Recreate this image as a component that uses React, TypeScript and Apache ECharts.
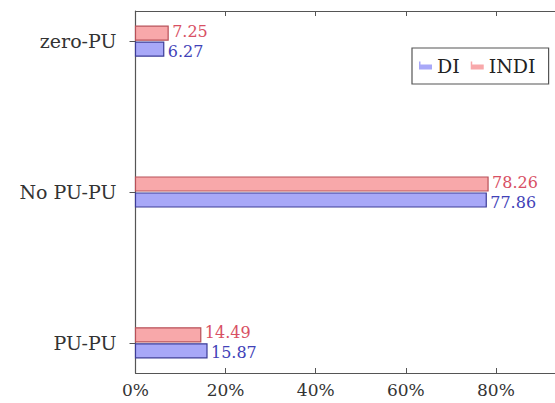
import React, { useEffect, useRef } from "react";
import * as echarts from "echarts";

const categories = ["zero-PU", "No PU-PU", "PU-PU"];
const diValues = [6.27, 77.86, 15.87];
const indiValues = [7.25, 78.26, 14.49];
const xTicks = [0, 20, 40, 60, 80, 100];
const xTickLabels = [0, 20, 40, 60, 80];

const FONT = "DejaVu Serif";
const VAL_FS = 16;
const CAT_FS = 19;
const TICK_FS = 17;
const LEG_FS = 19;
const BAR_H = 14;
const OFFSET = 8;

function makeRender(offset: number, labelShift: number, fill: string, stroke: string, textColor: string) {
  return (params: any, api: any) => {
    const v = api.value(0);
    const c = api.value(1);
    const p0 = api.coord([0, c]);
    const p1 = api.coord([v, c]);
    const cy = p0[1] + offset;
    return {
      type: "group",
      children: [
        {
          type: "rect",
          shape: { x: p0[0], y: cy - BAR_H / 2, width: p1[0] - p0[0], height: BAR_H },
          style: { fill, stroke, lineWidth: 1.2 },
        },
        {
          type: "text",
          x: p1[0] + 4,
          y: cy + labelShift,
          style: {
            text: v.toFixed(2),
            fill: textColor,
            fontFamily: FONT,
            fontSize: VAL_FS,
            verticalAlign: "middle",
            align: "left",
          },
        },
      ],
    };
  };
}

export default function App() {
  const ref = useRef<HTMLDivElement>(null);
  useEffect(() => {
    if (!ref.current) return;
    const chart = echarts.init(ref.current, undefined, { renderer: "svg" });
    const axisColor = "#555";
    chart.setOption({
      animation: false,
      backgroundColor: "#fff",
      textStyle: { fontFamily: FONT },
      grid: { left: 135.5, right: -31, top: 11, bottom: 30, outerBoundsMode: "none", containLabel: false },
      legend: {
        show: true,
        data: ["DI", "INDI"],
        left: 412,
        top: 48,
        padding: [8, 13, 9, 7],
        itemGap: 11,
        itemWidth: 13,
        itemHeight: 8,
        borderColor: "#555",
        borderWidth: 1.2,
        icon: "path://M0,0 L1.5,0 L1.5,3 L13,3 L13,8 L0,8 Z",
        textStyle: { fontFamily: FONT, fontSize: LEG_FS, color: "#222", padding: [4, 0, 0, 0] },
      },
      xAxis: [
        {
          type: "value",
          min: 0,
          max: 100,
          interval: 20,
          position: "bottom",
          axisLine: { show: true, onZero: false, lineStyle: { color: axisColor, width: 1.2 } },
          axisTick: { show: true, inside: true, length: 5, customValues: xTicks, lineStyle: { color: axisColor } },
          axisLabel: {
            margin: 8,
            fontFamily: FONT,
            fontSize: TICK_FS,
            color: "#333",
            customValues: xTickLabels,
            formatter: (v: number) => `${v}%`,
          },
          splitLine: { show: false },
        },
        {
          type: "value",
          min: 0,
          max: 100,
          interval: 20,
          position: "top",
          axisLine: { show: true, onZero: false, lineStyle: { color: axisColor, width: 1.2 } },
          axisTick: { show: true, inside: true, length: 5, lineStyle: { color: axisColor } },
          axisLabel: { show: false },
          splitLine: { show: false },
        },
      ],
      yAxis: {
        type: "value",
        min: -0.2,
        max: 2.2,
        inverse: true,
        axisLine: { show: true, onZero: false, lineStyle: { color: axisColor, width: 1.2 } },
        axisTick: { show: true, inside: false, length: 6, customValues: [0, 1, 2], lineStyle: { color: axisColor } },
        axisLabel: {
          margin: 19,
          fontFamily: FONT,
          fontSize: CAT_FS,
          color: "#333",
          customValues: [0, 1, 2],
          formatter: (v: number) => categories[Math.round(v)] ?? "",
        },
        splitLine: { show: false },
      },
      series: [
        {
          name: "DI",
          type: "custom",
          itemStyle: { color: "#a8a8f8", borderColor: "#3c3c98" },
          renderItem: makeRender(OFFSET, 2, "#a8a8f8", "#3c3c98", "#4242b8"),
          data: diValues.map((v, i) => [v, i]),
          encode: { x: 0, y: 1 },
        },
        {
          name: "INDI",
          type: "custom",
          itemStyle: { color: "#f8a8aa", borderColor: "#c04850" },
          renderItem: makeRender(-OFFSET, -2, "#f8a8aa", "#b85058", "#d85064"),
          data: indiValues.map((v, i) => [v, i]),
          encode: { x: 0, y: 1 },
        },
      ],
    });
    return () => chart.dispose();
  }, []);
  return (
    <div
      ref={ref}
      style={{ position: "fixed", left: 0, top: 0, width: 555, height: 403, background: "#fff" }}
    />
  );
}
